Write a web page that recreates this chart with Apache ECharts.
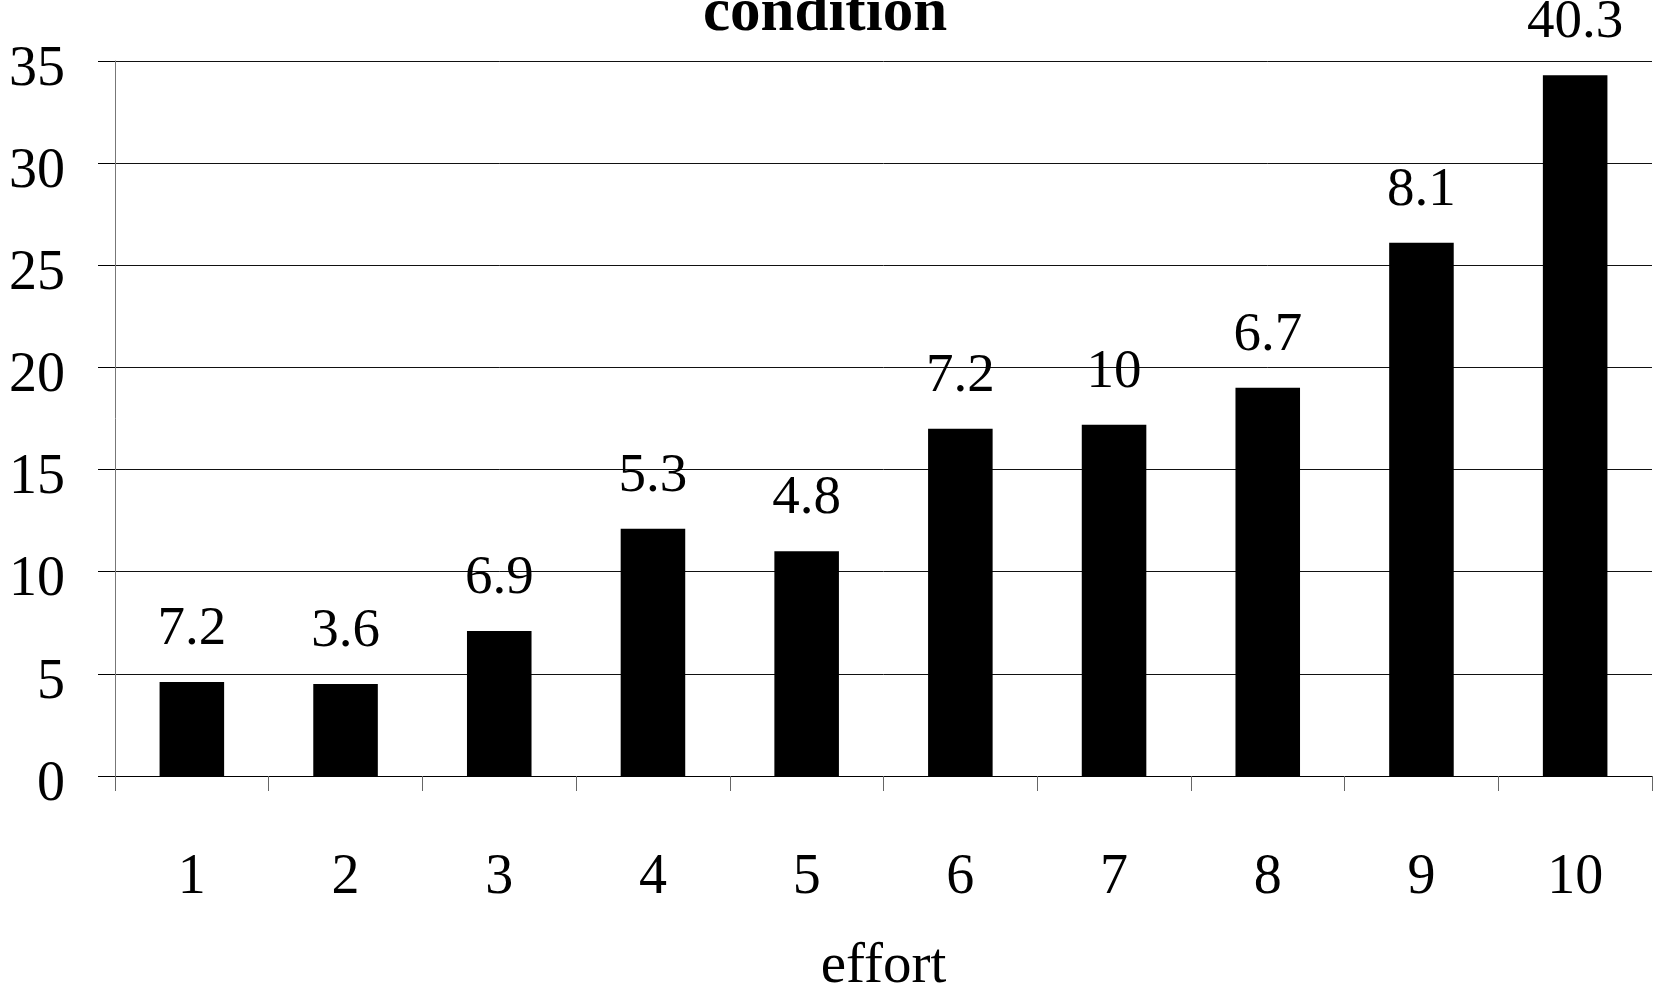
<!DOCTYPE html>
<html>
<head>
<meta charset="utf-8">
<title>condition</title>
<script src="https://cdn.jsdelivr.net/npm/echarts@6/dist/echarts.min.js"></script>
<style>
  html, body { margin: 0; padding: 0; background: #fff; }
  #chart { width: 1655px; height: 989px; }
</style>
</head>
<body>
<div id="chart"></div>
<script>
// effort levels on the x axis
var categories = ['1', '2', '3', '4', '5', '6', '7', '8', '9', '10'];
// bar heights per effort level
var barValues = [4.6, 4.5, 7.1, 12.1, 11.0, 17.0, 17.2, 19.0, 26.1, 34.3];
// figures printed above each bar
var barNotes = ['7.2', '3.6', '6.9', '5.3', '4.8', '7.2', '10', '6.7', '8.1', '40.3'];
// y axis ticks
var yMin = 0, yMax = 35, yStep = 5;

var serif = '"Liberation Serif", "Times New Roman", Times, serif';

var chart = echarts.init(document.getElementById('chart'), null, { renderer: 'canvas' });

chart.setOption({
  animation: false,
  backgroundColor: '#ffffff',
  title: {
    text: 'condition',
    left: 703,
    top: -16,
    padding: 0,
    textStyle: { fontFamily: serif, fontWeight: 'bold', fontSize: 61, color: '#000' }
  },
  grid: {
    left: 115,
    right: 3,
    top: 61,
    bottom: 213,
    containLabel: false,
    outerBoundsMode: 'none'
  },
  xAxis: {
    type: 'category',
    data: categories,
    boundaryGap: true,
    name: 'effort',
    nameLocation: 'middle',
    nameGap: 163,
    nameTextStyle: { fontFamily: serif, fontSize: 57, color: '#000' },
    axisLine: { show: true, lineStyle: { color: '#000', width: 1 } },
    axisTick: { show: true, alignWithLabel: false, length: 15, lineStyle: { color: '#666', width: 1 } },
    axisLabel: { margin: 74, fontFamily: serif, fontSize: 56, color: '#000' },
    splitLine: { show: false }
  },
  yAxis: {
    type: 'value',
    min: yMin,
    max: yMax,
    interval: yStep,
    axisLine: { show: true, lineStyle: { color: '#777', width: 1 } },
    axisTick: { show: true, length: 17, lineStyle: { color: '#000', width: 1 } },
    axisLabel: {
      margin: 50,
      verticalAlign: 'top',
      lineHeight: 18,
      fontFamily: serif,
      fontSize: 56,
      color: '#000'
    },
    splitLine: { show: true, lineStyle: { color: '#111', width: 1 } }
  },
  series: [{
    type: 'bar',
    data: barValues,
    barCategoryGap: '58%',
    itemStyle: { color: '#000' },
    label: {
      show: true,
      position: 'top',
      distance: 25,
      fontFamily: serif,
      fontSize: 55,
      color: '#000',
      formatter: function (p) { return barNotes[p.dataIndex]; }
    }
  }]
});
</script>
</body>
</html>
